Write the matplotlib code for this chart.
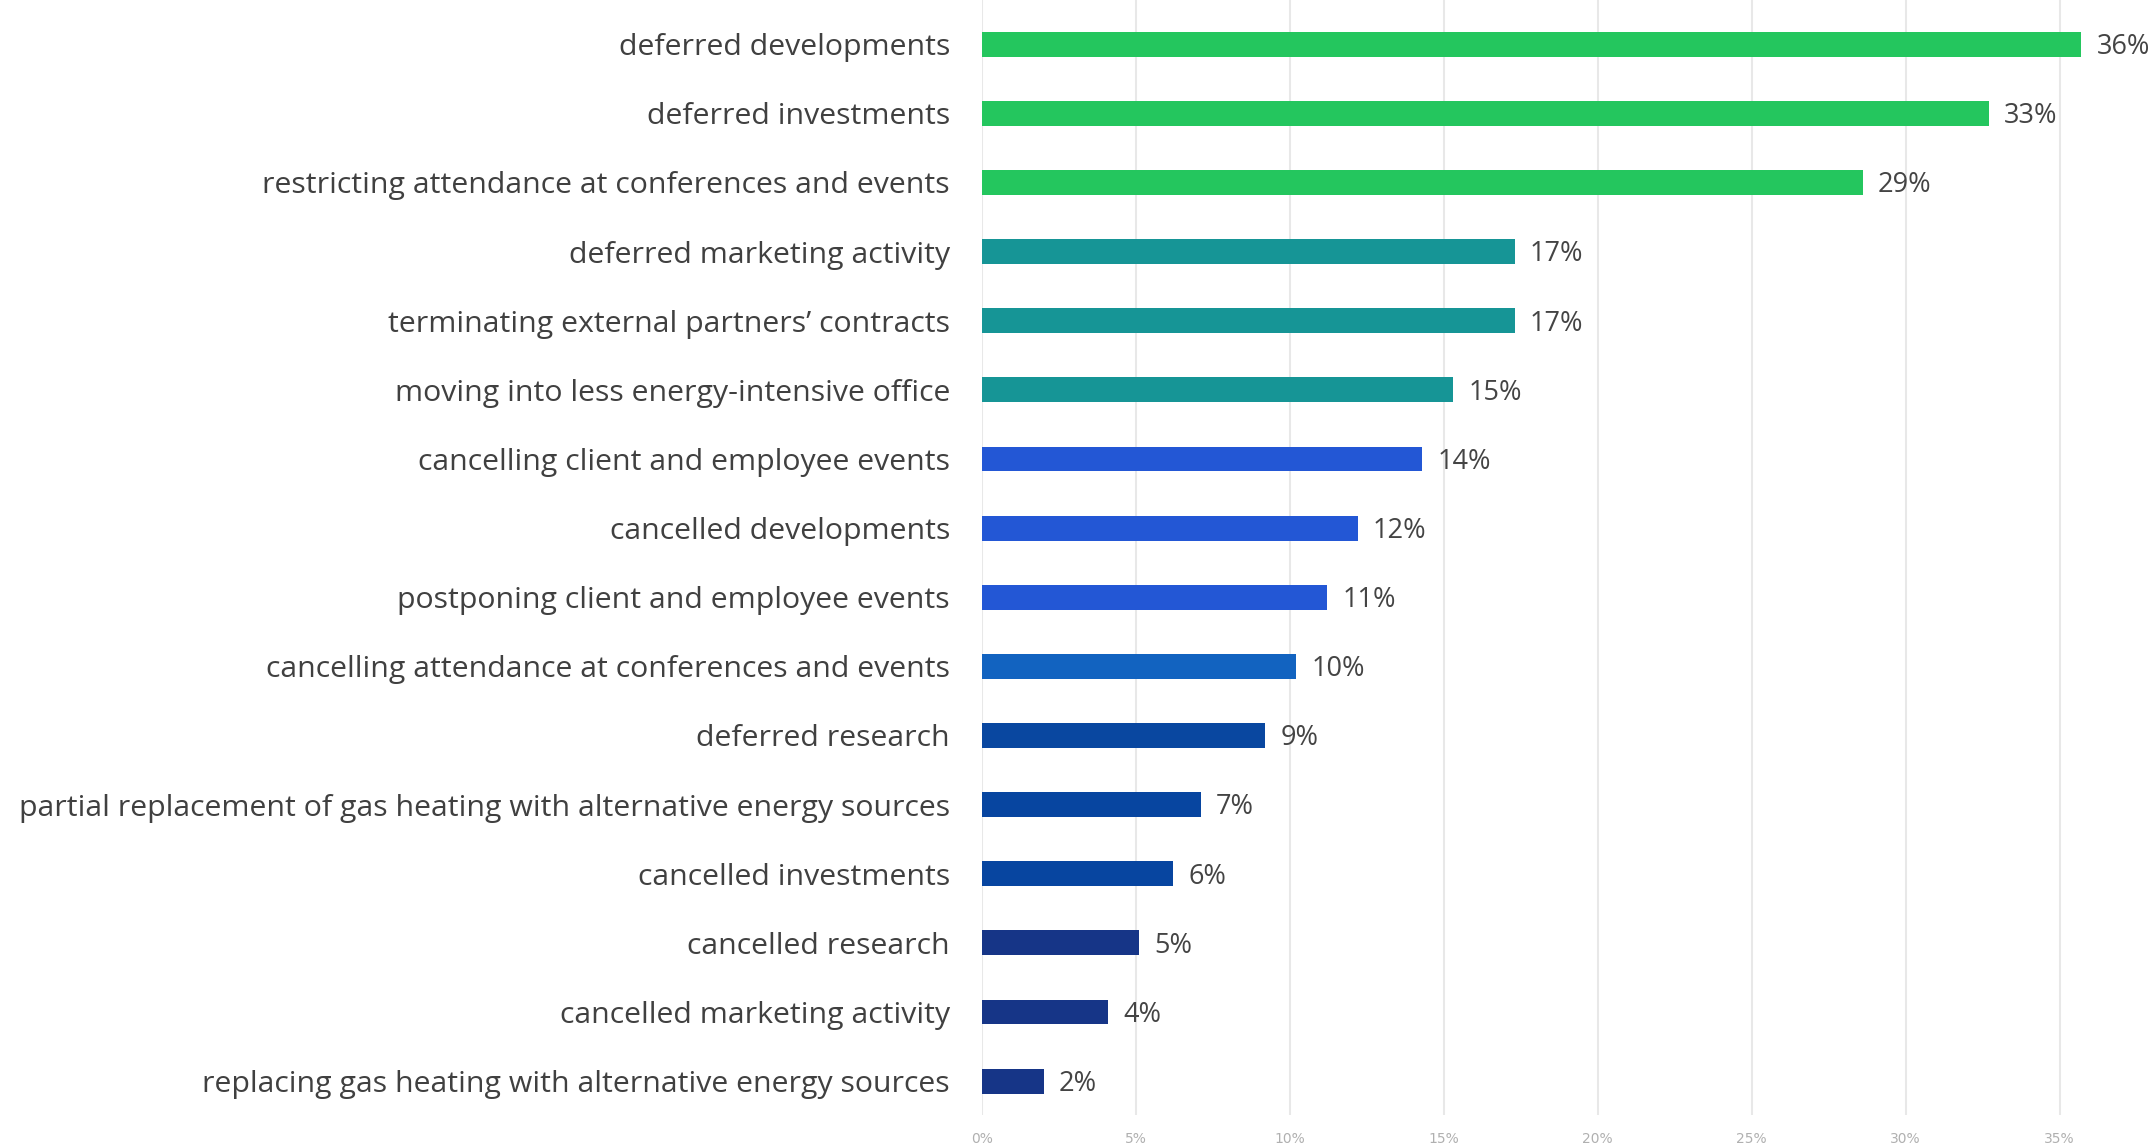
import matplotlib.pyplot as plt
from matplotlib.ticker import FuncFormatter

categories = [
    "deferred developments",
    "deferred investments",
    "restricting attendance at conferences and events",
    "deferred marketing activity",
    "terminating external partners\u2019 contracts",
    "moving into less energy-intensive office",
    "cancelling client and employee events",
    "cancelled developments",
    "postponing client and employee events",
    "cancelling attendance at conferences and events",
    "deferred research",
    "partial replacement of gas heating with alternative energy sources",
    "cancelled investments",
    "cancelled research",
    "cancelled marketing activity",
    "replacing gas heating with alternative energy sources",
]
values = [35.7, 32.7, 28.6, 17.3, 17.3, 15.3, 14.3, 12.2, 11.2, 10.2, 9.2, 7.1, 6.2, 5.1, 4.1, 2.0]
labels = ["36%", "33%", "29%", "17%", "17%", "15%", "14%", "12%", "11%", "10%",
          "9%", "7%", "6%", "5%", "4%", "2%"]
colors = ["#24c65e"] * 3 + ["#169596"] * 3 + ["#2357d5"] * 3 + ["#1263c0", "#0947a0",
          "#0745a0", "#0745a0", "#163587", "#163587", "#163587"]

fig = plt.figure(figsize=(21.54, 11.46), dpi=100)
ax = fig.add_axes([982 / 2154, 1 - 1115 / 1146, 1170 / 2154, 1115 / 1146])

y = list(range(len(categories)))
ax.barh(y, values, height=0.36, color=colors, zorder=3)
ax.set_ylim(15.49, -0.64)
ax.set_xlim(0, 38)

ax.set_xticks([0, 5, 10, 15, 20, 25, 30, 35])
ax.xaxis.set_major_formatter(FuncFormatter(lambda v, p: f"{v:.0f}%"))
ax.tick_params(axis="x", length=0, pad=12, labelsize=10, labelcolor="#b0b0b0")
for t in ax.get_xticklabels():
    t.set_family(["Liberation Sans Narrow", "DejaVu Sans"])
ax.grid(axis="x", color="#e8e8e8", linewidth=1.5, zorder=0)

ax.set_yticks(y)
ax.set_yticklabels(categories, fontsize=21.8, color="#404040", family="Open Sans")
ax.tick_params(axis="y", length=0, pad=23)

for yi, v, lab in zip(y, values, labels):
    ax.text(v + 0.5, yi + 0.04, lab, va="center", ha="left", fontsize=19.5,
            color="#444444", family="Open Sans")

for s in ax.spines.values():
    s.set_visible(False)

fig.savefig("out.png", dpi=100)
